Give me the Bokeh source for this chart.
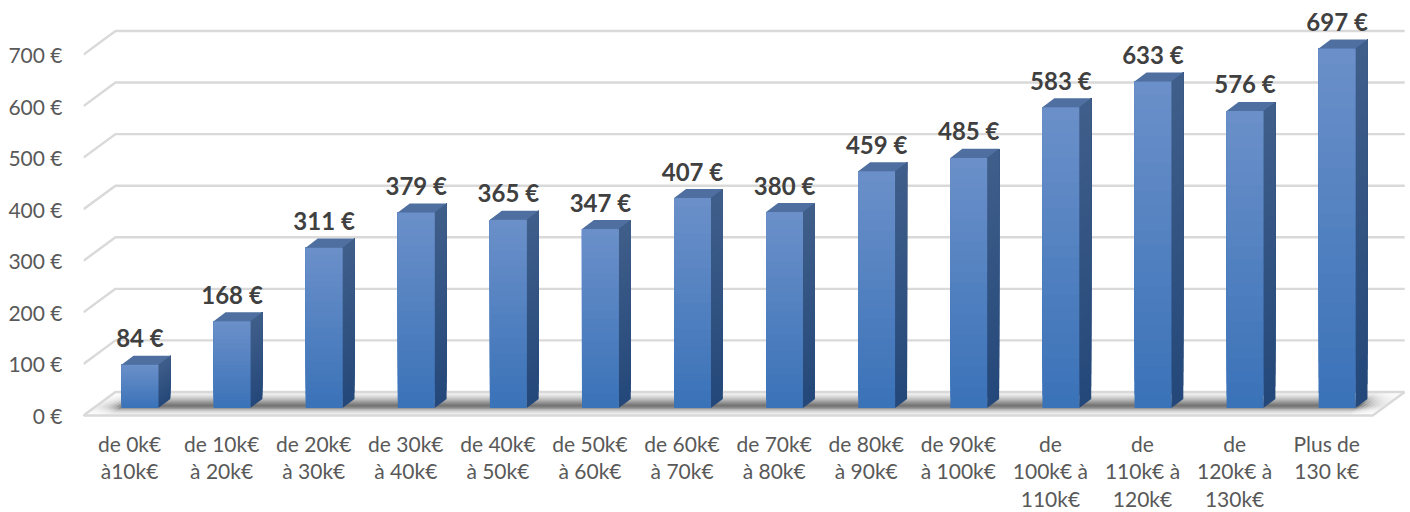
from bokeh.plotting import figure
from bokeh.models import Range1d, FixedTicker, PrintfTickFormatter, ColumnDataSource
from bokeh.core.properties import value
from bokeh.embed import file_html
from bokeh.resources import INLINE

categories = ["de 0k€\nà10k€", "de 10k€\nà 20k€", "de 20k€\nà 30k€", "de 30k€\nà 40k€",
              "de 40k€\nà 50k€", "de 50k€\nà 60k€", "de 60k€\nà 70k€", "de 70k€\nà 80k€",
              "de 80k€\nà 90k€", "de 90k€\nà 100k€", "de\n100k€ à\n110k€", "de\n110k€ à\n120k€",
              "de\n120k€ à\n130k€", "Plus de\n130 k€"]
values = [84, 168, 311, 379, 365, 347, 407, 380, 459, 485, 583, 633, 576, 697]
y_ticks = [0, 100, 200, 300, 400, 500, 600, 700]
bar_labels = [f"{v} €" for v in values]

# 3-D projection, in data units
WALL_DX, WALL_DY = 0.347, 45.6      # floor/wall depth
BAR_SHIFT_X, BAR_SHIFT_Y = 0.113, 14.5
BAR_W = 0.40
BAR_DX, BAR_DY = 0.13, 17.5
FLOOR_L, FLOOR_R = -0.5, 13.5


def lerp(a, b, t):
    return a + (b - a) * t


def mix(c1, c2, t):
    return "#%02x%02x%02x" % tuple(round(lerp(a, b, t)) for a, b in zip(c1, c2))


p = figure(width=1410, height=512, output_backend="svg", toolbar_location=None,
           x_range=Range1d(-0.5, 13.91), y_range=Range1d(-3.9, 789.2),
           min_border_left=83, min_border_right=0, min_border_top=8, min_border_bottom=95,
           outline_line_color=None, background_fill_color="white")
p.frame_width = 1327
p.frame_height = 409
p.grid.visible = False

# Axes
yax = p.yaxis[0]
yax.ticker = FixedTicker(ticks=y_ticks)
yax.formatter = PrintfTickFormatter(format="%d €")
yax.axis_line_color = None
yax.major_tick_line_color = None
yax.minor_tick_line_color = None
yax.major_tick_in = 0
yax.major_tick_out = 0
yax.major_label_standoff = 21
yax.major_label_text_font = "Lato"
yax.major_label_text_font_size = "21px"
yax.major_label_text_color = "#595959"

xax = p.xaxis[0]
xax.ticker = FixedTicker(ticks=list(range(len(categories))))
xax.major_label_overrides = {i: c for i, c in enumerate(categories)}
xax.axis_line_color = None
xax.major_tick_line_color = None
xax.minor_tick_line_color = None
xax.major_tick_in = 0
xax.major_tick_out = 0
xax.major_label_standoff = 13
xax.major_label_text_font = "Lato"
xax.major_label_text_font_size = "21px"
xax.major_label_text_color = "#595959"
xax.major_label_text_line_height = 1.1

# Walls: grid lines
GRID = "#d9d9d9"
for t in y_ticks[1:]:
    p.line([FLOOR_L, FLOOR_L + WALL_DX, FLOOR_R + WALL_DX],
           [t, t + WALL_DY, t + WALL_DY], line_color=GRID, line_width=2.4)

# Floor shadow
stops = [(0.0, 242), (0.1, 236), (0.2, 218), (0.33, 185), (0.46, 145), (0.58, 112), (0.67, 140),
         (0.75, 185), (0.83, 215), (0.92, 238), (1.0, 248)]
N = 24
for k in range(N):
    t0 = k / N
    tm = (k + 0.5) / N
    for (a, ga), (b, gb) in zip(stops, stops[1:]):
        if a <= tm <= b:
            g = round(lerp(ga, gb, (tm - a) / (b - a)))
            break
    xl0 = FLOOR_L + WALL_DX * (1 - t0)
    xr0 = FLOOR_R + WALL_DX * (1 - t0)
    y0 = WALL_DY * (1 - t0)
    p.patch([xl0, xr0, FLOOR_R, FLOOR_L], [y0, y0, 0, 0], fill_color=f"#{g:02x}{g:02x}{g:02x}", line_color=None)
# the shadow fades out towards both ends of the floor
for j in range(6):
    w = 0.045 * (j + 1)
    p.patch([FLOOR_L, FLOOR_L + w, FLOOR_L + w + WALL_DX, FLOOR_L + WALL_DX], [0, 0, WALL_DY, WALL_DY],
            fill_color="white", fill_alpha=0.28, line_color=None)
    p.patch([FLOOR_R - w, FLOOR_R, FLOOR_R + WALL_DX, FLOOR_R - w + WALL_DX], [0, 0, WALL_DY, WALL_DY],
            fill_color="white", fill_alpha=0.28, line_color=None)
p.line([FLOOR_L, FLOOR_L + WALL_DX, FLOOR_R + WALL_DX], [0, WALL_DY, WALL_DY], line_color=GRID, line_width=2.4)
p.line([FLOOR_L, FLOOR_R, FLOOR_R + WALL_DX], [0, 0, WALL_DY], line_color=GRID, line_width=2.4)

# Bars
FRONT_TOP, FRONT_BOT = (107, 144, 201), (58, 114, 184)
SIDE_TOP, SIDE_BOT = (64, 94, 138), (36, 72, 122)
TOP_FACE = "#4e6f9f"
STRIPS = 24
for i, v in enumerate(values):
    x0 = i + BAR_SHIFT_X - BAR_W / 2
    x1 = i + BAR_SHIFT_X + BAR_W / 2
    b = BAR_SHIFT_Y
    top = v + BAR_SHIFT_Y
    for k in range(STRIPS):
        c = (k + 0.5) / STRIPS
        y0 = lerp(b, top, k / STRIPS)
        p.patch([x1, x1 + BAR_DX, x1 + BAR_DX, x1],
                [y0, y0 + BAR_DY, top + BAR_DY, top],
                fill_color=mix(SIDE_BOT, SIDE_TOP, c), line_color=None)
        p.patch([x0, x1, x1, x0], [y0, y0, top, top],
                fill_color=mix(FRONT_BOT, FRONT_TOP, c), line_color=None)
    p.patch([x0, x1, x1 + BAR_DX, x0 + BAR_DX], [top, top, top + BAR_DY, top + BAR_DY],
            fill_color=TOP_FACE, line_color=None)

# Value labels
src = ColumnDataSource(dict(x=[i + BAR_SHIFT_X for i in range(len(values))],
                            y=[v + BAR_SHIFT_Y for v in values], t=bar_labels))
p.text("x", "y", text="t", source=src, text_font=value("Lato"), text_font_style="bold",
       text_font_size="24px", text_color="#404040", text_align="center",
       text_baseline="middle", y_offset=-27)

open("out.html", "w").write(file_html(p, INLINE))
